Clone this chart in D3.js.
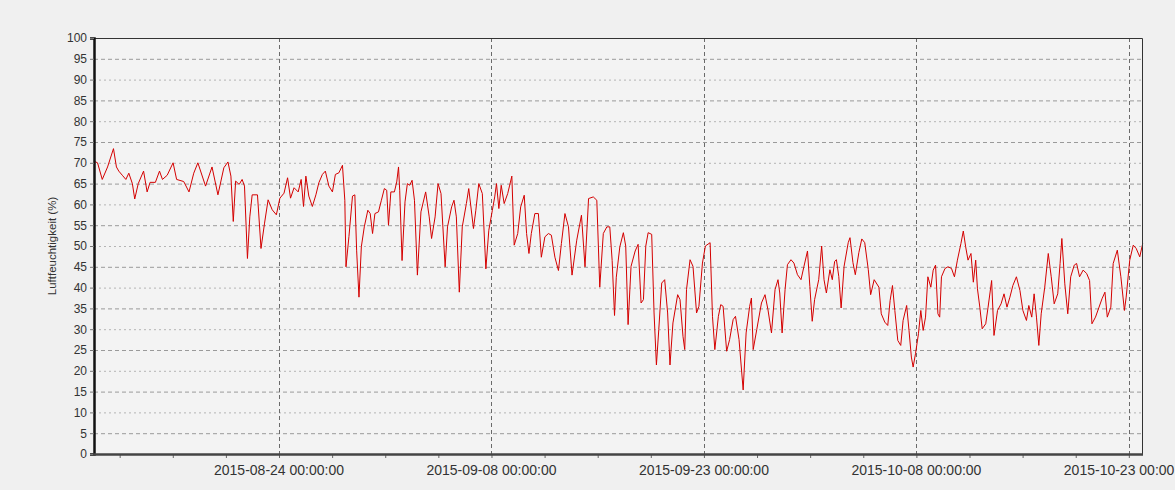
<!DOCTYPE html>
<html>
<head>
<meta charset="utf-8">
<script src="https://cdn.jsdelivr.net/npm/d3@7"></script>
<style>
  body { margin: 0; background: #f0f0f0; }
  svg { display: block; font-family: "Liberation Sans", Arial, sans-serif; }
</style>
</head>
<body>
<div id="chart"></div>
<script>
// hours after the first reading (2015-08-10 22:30) and relative humidity in %
var hours = [
  0, 6, 14, 23, 33, 38, 42, 48, 54, 59, 65, 69, 75, 84, 90, 95, 104, 111, 116, 124,
  134, 140, 152, 161, 169, 176, 189, 200, 210, 220, 227, 232, 236, 240, 246, 251, 255, 260, 264, 268,
  277, 283, 289, 295, 302, 309, 315, 322, 328, 333, 339, 346, 351, 355, 359, 364, 370, 376, 381, 387,
  392, 398, 404, 409, 415, 421, 425, 427, 432, 438, 442, 445, 449, 453, 458, 464, 468, 472, 476, 482,
  487, 492, 496, 499, 503, 509, 513, 516, 518, 522, 527, 531, 535, 539, 543, 548, 554, 562, 568, 572,
  578, 583, 588, 595, 599, 606, 610, 614, 619, 624, 631, 635, 643, 647, 652, 658, 664, 669, 675, 679,
  682, 686, 690, 695, 701, 708, 712, 718, 723, 729, 733, 737, 741, 747, 753, 758, 764, 770, 775, 781,
  787, 792, 798, 804, 810, 818, 826, 832, 838, 846, 852, 857, 863, 869, 874, 878, 882, 885, 891, 897,
  901, 905, 910, 917, 922, 927, 931, 935, 939, 945, 949, 953, 957, 962, 967, 972, 976, 981, 989, 993,
  998, 1001, 1004, 1010, 1015, 1021, 1025, 1031, 1036, 1044, 1048, 1052, 1058, 1062, 1066, 1072, 1077, 1083, 1087, 1093,
  1100, 1105, 1111, 1114, 1117, 1123, 1131, 1137, 1142, 1148, 1154, 1159, 1162, 1166, 1171, 1175, 1181, 1186, 1192, 1198,
  1203, 1209, 1213, 1217, 1221, 1228, 1233, 1237, 1241, 1247, 1251, 1255, 1258, 1262, 1266, 1271, 1278, 1281, 1286, 1290,
  1296, 1301, 1306, 1312, 1316, 1322, 1330, 1334, 1340, 1345, 1349, 1353, 1357, 1362, 1367, 1371, 1377, 1381, 1385, 1388,
  1392, 1397, 1401, 1405, 1409, 1413, 1418, 1422, 1426, 1430, 1433, 1436, 1442, 1447, 1453, 1458, 1463, 1469, 1473, 1477,
  1481, 1486, 1490, 1494, 1497, 1501, 1505, 1511, 1515, 1521, 1525, 1531, 1537, 1542, 1547, 1552, 1557, 1563, 1569, 1574,
  1580, 1584, 1589, 1593, 1597, 1601, 1605, 1611, 1617, 1622, 1627, 1633, 1637, 1640, 1645, 1650, 1655, 1661, 1665, 1670,
  1676, 1682, 1687, 1691, 1697, 1703, 1708, 1713, 1717, 1723, 1727, 1734, 1740, 1746, 1749, 1755, 1761, 1766, 1772, 1777
];

var humidity = [
  70.4, 70, 66, 69, 73.4, 69, 68, 67, 66, 67.5, 65, 61.3, 65, 68, 63, 65.3, 65.3, 68, 66, 67,
  70, 66, 65.5, 63, 67.5, 70, 64.4, 69, 62.3, 68.8, 70.2, 66.8, 55.9, 65.6, 64.8, 66, 64.4, 47, 57, 62.3,
  62.3, 49.4, 55.5, 61.1, 58.7, 57.5, 61.5, 62.7, 66.4, 61.5, 64, 63, 66, 59.5, 66.8, 62, 59.5, 62.3, 65.2, 67.2,
  68, 64.4, 63, 67.2, 67.6, 69.4, 61, 45, 52.3, 62, 62.3, 49, 37.7, 49.8, 54.6, 58.6, 57.8, 53, 57.8, 58.2,
  61, 63.8, 63.4, 55, 63, 63, 65.4, 69, 63.4, 46.5, 60.6, 65, 64.6, 65.8, 61, 43, 58.2, 63, 57, 51.8,
  57, 65, 62.6, 45, 54.6, 59.4, 61, 57, 38.9, 54.6, 60.2, 63.8, 54.2, 58.6, 65, 62.6, 44.5, 53.8, 58.6, 61.8,
  65, 59, 64.6, 60.2, 62.6, 66.8, 50.2, 53, 59.4, 62.2, 53, 48.2, 53, 57.8, 57.8, 47.3, 52.2, 53, 52.6, 47.3,
  44.1, 50.6, 57.8, 54.6, 43, 51.4, 57.4, 45, 61.4, 61.8, 61, 40.1, 53, 54.6, 54.6, 46.5, 33.3, 42.5, 49.8, 53.2,
  50, 31.1, 45.1, 48.8, 50.4, 36.3, 37.1, 50, 53.2, 52.8, 33.9, 21.4, 29.9, 41.1, 41.9, 33.9, 21.4, 31.5, 38.3, 37.1,
  28.3, 25.1, 39.5, 46.7, 45.1, 33.9, 35.5, 45.9, 50, 50.8, 33.1, 25.1, 33.1, 35.9, 35.5, 24.7, 27.5, 32.3, 33.1, 27.5,
  15.4, 29.1, 35.5, 37.5, 25.1, 29.9, 36.3, 38.3, 34.7, 29.1, 39.5, 41.9, 38.7, 29.1, 39.5, 45.5, 46.7, 45.9, 43.1, 41.9,
  45.1, 48.8, 40.3, 31.9, 37.1, 41.9, 50, 41.9, 38.7, 44.3, 41.9, 46.3, 46.7, 42.7, 35.1, 45.1, 50.8, 52, 46, 43.1,
  48.4, 51.7, 50.8, 44.3, 38.3, 41.9, 40.1, 33.7, 31.7, 30.9, 36.9, 40.5, 34.5, 27.3, 26.1, 32.1, 35.7, 29.7, 23.3, 20.9,
  24.1, 28.9, 34.5, 29.7, 32.9, 42.6, 40.1, 44.2, 45.4, 33.7, 32.9, 42.6, 44.6, 45, 44.6, 42.6, 46.6, 50.6, 53.6, 49.8,
  46.6, 48.2, 41.3, 46.6, 39.7, 35.3, 30.1, 31.3, 35.3, 41.7, 28.5, 34.5, 36.1, 38.5, 35.3, 37.7, 40.5, 42.6, 39.3, 34.5,
  32.1, 35.7, 32.9, 38.5, 32.9, 26.1, 33.7, 40.1, 48.2, 42.6, 36.1, 38.5, 45.8, 51.8, 40.9, 33.7, 42.6, 45.4, 45.8, 42.6,
  44.2, 43.4, 41.7, 31.3, 32.9, 35.3, 37.3, 38.9, 32.9, 35.3, 45.8, 49, 42.6, 34.5, 37.7, 46.6, 50.2, 49.4, 47.4, 50.6
];

var majorTicks = ["2015-08-24", "2015-09-08", "2015-09-23", "2015-10-08", "2015-10-23"];
var yTicks = d3.range(0, 101, 5);

var width = 1175,
    height = 490,
    margin = {top: 38, right: 32, bottom: 36, left: 94};

var start = new Date("2015-08-10T22:30:00"),
    end = new Date("2015-10-24T00:00:00");

var data = hours.map((h, i) => ({date: d3.timeHour.offset(start, h), value: humidity[i]}));

var x = d3.scaleTime()
    .domain([start, end])
    .range([margin.left, width - margin.right]);

var y = d3.scaleLinear()
    .domain([0, 100])
    .range([height - margin.bottom, margin.top]);

var svg = d3.select("#chart")
    .append("svg")
    .attr("width", width)
    .attr("height", height);

// plot background
svg.append("rect")
    .attr("x", margin.left)
    .attr("y", margin.top)
    .attr("width", width - margin.right - margin.left)
    .attr("height", height - margin.bottom - margin.top)
    .attr("fill", "#f3f3f3");

// horizontal grid
svg.append("g")
    .selectAll("line")
    .data(yTicks.filter(d => d > 0 && d < 100))
    .join("line")
    .attr("x1", margin.left)
    .attr("x2", width - margin.right)
    .attr("y1", d => y(d) + 0.5)
    .attr("y2", d => y(d) + 0.5)
    .attr("stroke", d => d % 10 == 0 ? "#b4b4b4" : "#9a9a9a")
    .attr("stroke-dasharray", d => d % 10 == 0 ? "2,3" : "4,3");

// vertical grid at the labelled dates
let majorDates = majorTicks.map(d => new Date(d + "T00:00:00"));
svg.append("g")
    .selectAll("line")
    .data(majorDates)
    .join("line")
    .attr("x1", d => Math.round(x(d)) + 0.5)
    .attr("x2", d => Math.round(x(d)) + 0.5)
    .attr("y1", margin.top)
    .attr("y2", height - margin.bottom)
    .attr("stroke", "#6a6a6a")
    .attr("stroke-dasharray", "4,3");

// humidity line
let line = d3.line()
    .x(d => x(d.date))
    .y(d => y(d.value));

svg.append("path")
    .datum(data)
    .attr("fill", "none")
    .attr("stroke", "#d40000")
    .attr("stroke-width", 1)
    .attr("stroke-linejoin", "round")
    .attr("d", line);

// frame top / right
svg.append("path")
    .attr("d", `M${margin.left},${margin.top + 0.5}H${width - margin.right - 0.5}V${height - margin.bottom}`)
    .attr("fill", "none")
    .attr("stroke", "#333")
    .attr("stroke-width", 1);

// y axis
let yAxis = svg.append("g")
    .attr("transform", `translate(${margin.left}, 0)`)
    .call(d3.axisLeft(y).tickValues(yTicks).tickSize(4).tickPadding(3));
yAxis.select(".domain").attr("stroke", "#111").attr("stroke-width", 2.5);
yAxis.selectAll(".tick line").attr("stroke", "#777");
yAxis.selectAll("text")
    .attr("fill", "#333")
    .style("font-size", "12px");

// x axis: minor ticks every 90 hours between the labelled dates
let minorDates = d3.range(-3, 18).map(i => d3.timeHour.offset(majorDates[0], i * 90))
    .filter(d => d >= start && d <= end);
let xAxis = svg.append("g")
    .attr("transform", `translate(0, ${height - margin.bottom})`)
    .call(d3.axisBottom(x).tickValues(minorDates).tickSize(4).tickFormat(""));
xAxis.select(".domain").remove();
xAxis.selectAll(".tick line").attr("stroke", "#666");

svg.append("line")
    .attr("x1", margin.left - 1)
    .attr("x2", width - margin.right)
    .attr("y1", height - margin.bottom + 0.5)
    .attr("y2", height - margin.bottom + 0.5)
    .attr("stroke", "#444")
    .attr("stroke-width", 2.5);

let fmt = d3.timeFormat("%Y-%m-%d %H:%M:%S");
svg.append("g")
    .selectAll("text")
    .data(majorDates)
    .join("text")
    .attr("x", d => x(d))
    .attr("y", height - margin.bottom + 21)
    .attr("text-anchor", "middle")
    .attr("fill", "#333")
    .style("font-size", "14px")
    .text(d => fmt(d));

// y axis label
svg.append("text")
    .attr("transform", `translate(56, ${(margin.top + height - margin.bottom) / 2}) rotate(-90)`)
    .attr("text-anchor", "middle")
    .attr("fill", "#333")
    .style("font-size", "11.5px")
    .text("Luftfeuchtigkeit (%)");
</script>
</body>
</html>
